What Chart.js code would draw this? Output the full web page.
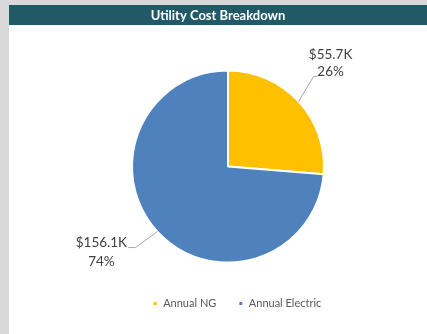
<!DOCTYPE html>
<html>
<head>
<meta charset="utf-8">
<script src="https://cdn.jsdelivr.net/npm/chart.js@4.4.0/dist/chart.umd.min.js"></script>
<style>
  html, body { margin: 0; padding: 0; background: #d9d9d9; }
  #wrap { position: absolute; left: 9px; top: 5px; width: 418px; height: 329px; background: #fff; }
</style>
</head>
<body>
<div id="wrap"><canvas id="grafico" width="418" height="329"></canvas></div>
<script>
// dados do gráfico
const categorias = ["Annual NG", "Annual Electric"];
const valores = [55.7, 156.1];          // milhares de dólares
const rotulosValor = ["$55.7K", "$156.1K"];
const rotulosPct = ["26%", "74%"];
const cores = ["#FFC000", "#4F81BD"];
const titulo = "Utility Cost Breakdown";

// faixa do título
const faixaTitulo = {
  id: "faixaTitulo",
  beforeDraw(chart) {
    const ctx = chart.ctx;
    ctx.save();
    ctx.fillStyle = "#215A66";
    ctx.fillRect(0, 0, chart.width, 20);
    ctx.fillStyle = "#fff";
    ctx.font = "bold 13px Lato";
    ctx.textAlign = "center";
    ctx.textBaseline = "middle";
    ctx.fillText(titulo, chart.width / 2, 10.5);
    ctx.restore();
  },
  afterLayout(chart) {
    // legenda um pouco deslocada para a direita como no original
    chart.legend.left += 9;
    chart.legend.right += 9;
  }
};

// rótulos com linha de chamada
const rotulos = {
  id: "rotulos",
  afterDatasetsDraw(chart) {
    const ctx = chart.ctx;
    const meta = chart.getDatasetMeta(0);
    // deslocamentos do cotovelo e do texto (layout)
    const cfg = [
      { ex: 15, ey: -25, hx: 4, tx: 17, t1: -22, t2: -5 },
      { ex: -22, ey: 16, hx: -7, tx: -34, t1: -5, t2: 14 }
    ];
    meta.data.forEach((arc, i) => {
      const p = arc.getProps(["x", "y", "startAngle", "endAngle", "outerRadius"], true);
      const a = (p.startAngle + p.endAngle) / 2;
      const ax = p.x + p.outerRadius * Math.cos(a);
      const ay = p.y + p.outerRadius * Math.sin(a);
      const c = cfg[i];
      const ex = ax + c.ex, ey = ay + c.ey;
      ctx.save();
      ctx.strokeStyle = "#A6A6A6";
      ctx.lineWidth = 1;
      ctx.beginPath();
      ctx.moveTo(ax, ay);
      ctx.lineTo(ex, ey);
      ctx.lineTo(ex + c.hx, ey);
      ctx.stroke();
      ctx.fillStyle = "#404040";
      ctx.font = "13.5px Lato";
      ctx.textAlign = "center";
      ctx.textBaseline = "middle";
      ctx.fillText(rotulosValor[i], ex + c.tx, ey + c.t1);
      ctx.fillText(rotulosPct[i], ex + c.tx, ey + c.t2);
      ctx.restore();
    });
  }
};

new Chart(document.getElementById("grafico"), {
  type: "pie",
  data: {
    labels: categorias,
    datasets: [{
      data: valores,
      backgroundColor: cores,
      borderColor: "#fff",
      borderWidth: 2
    }]
  },
  options: {
    responsive: false,
    animation: false,
    radius: 96,
    layout: { padding: { left: 20, right: 0, top: 52, bottom: 15 } },
    plugins: {
      title: { display: false },
      tooltip: { enabled: false },
      legend: {
        position: "bottom",
        labels: {
          boxWidth: 5,
          boxHeight: 5,
          padding: 22,
          color: "#595959",
          font: { family: "Lato", size: 11 }
        }
      }
    }
  },
  plugins: [faixaTitulo, rotulos]
});
</script>
</body>
</html>
